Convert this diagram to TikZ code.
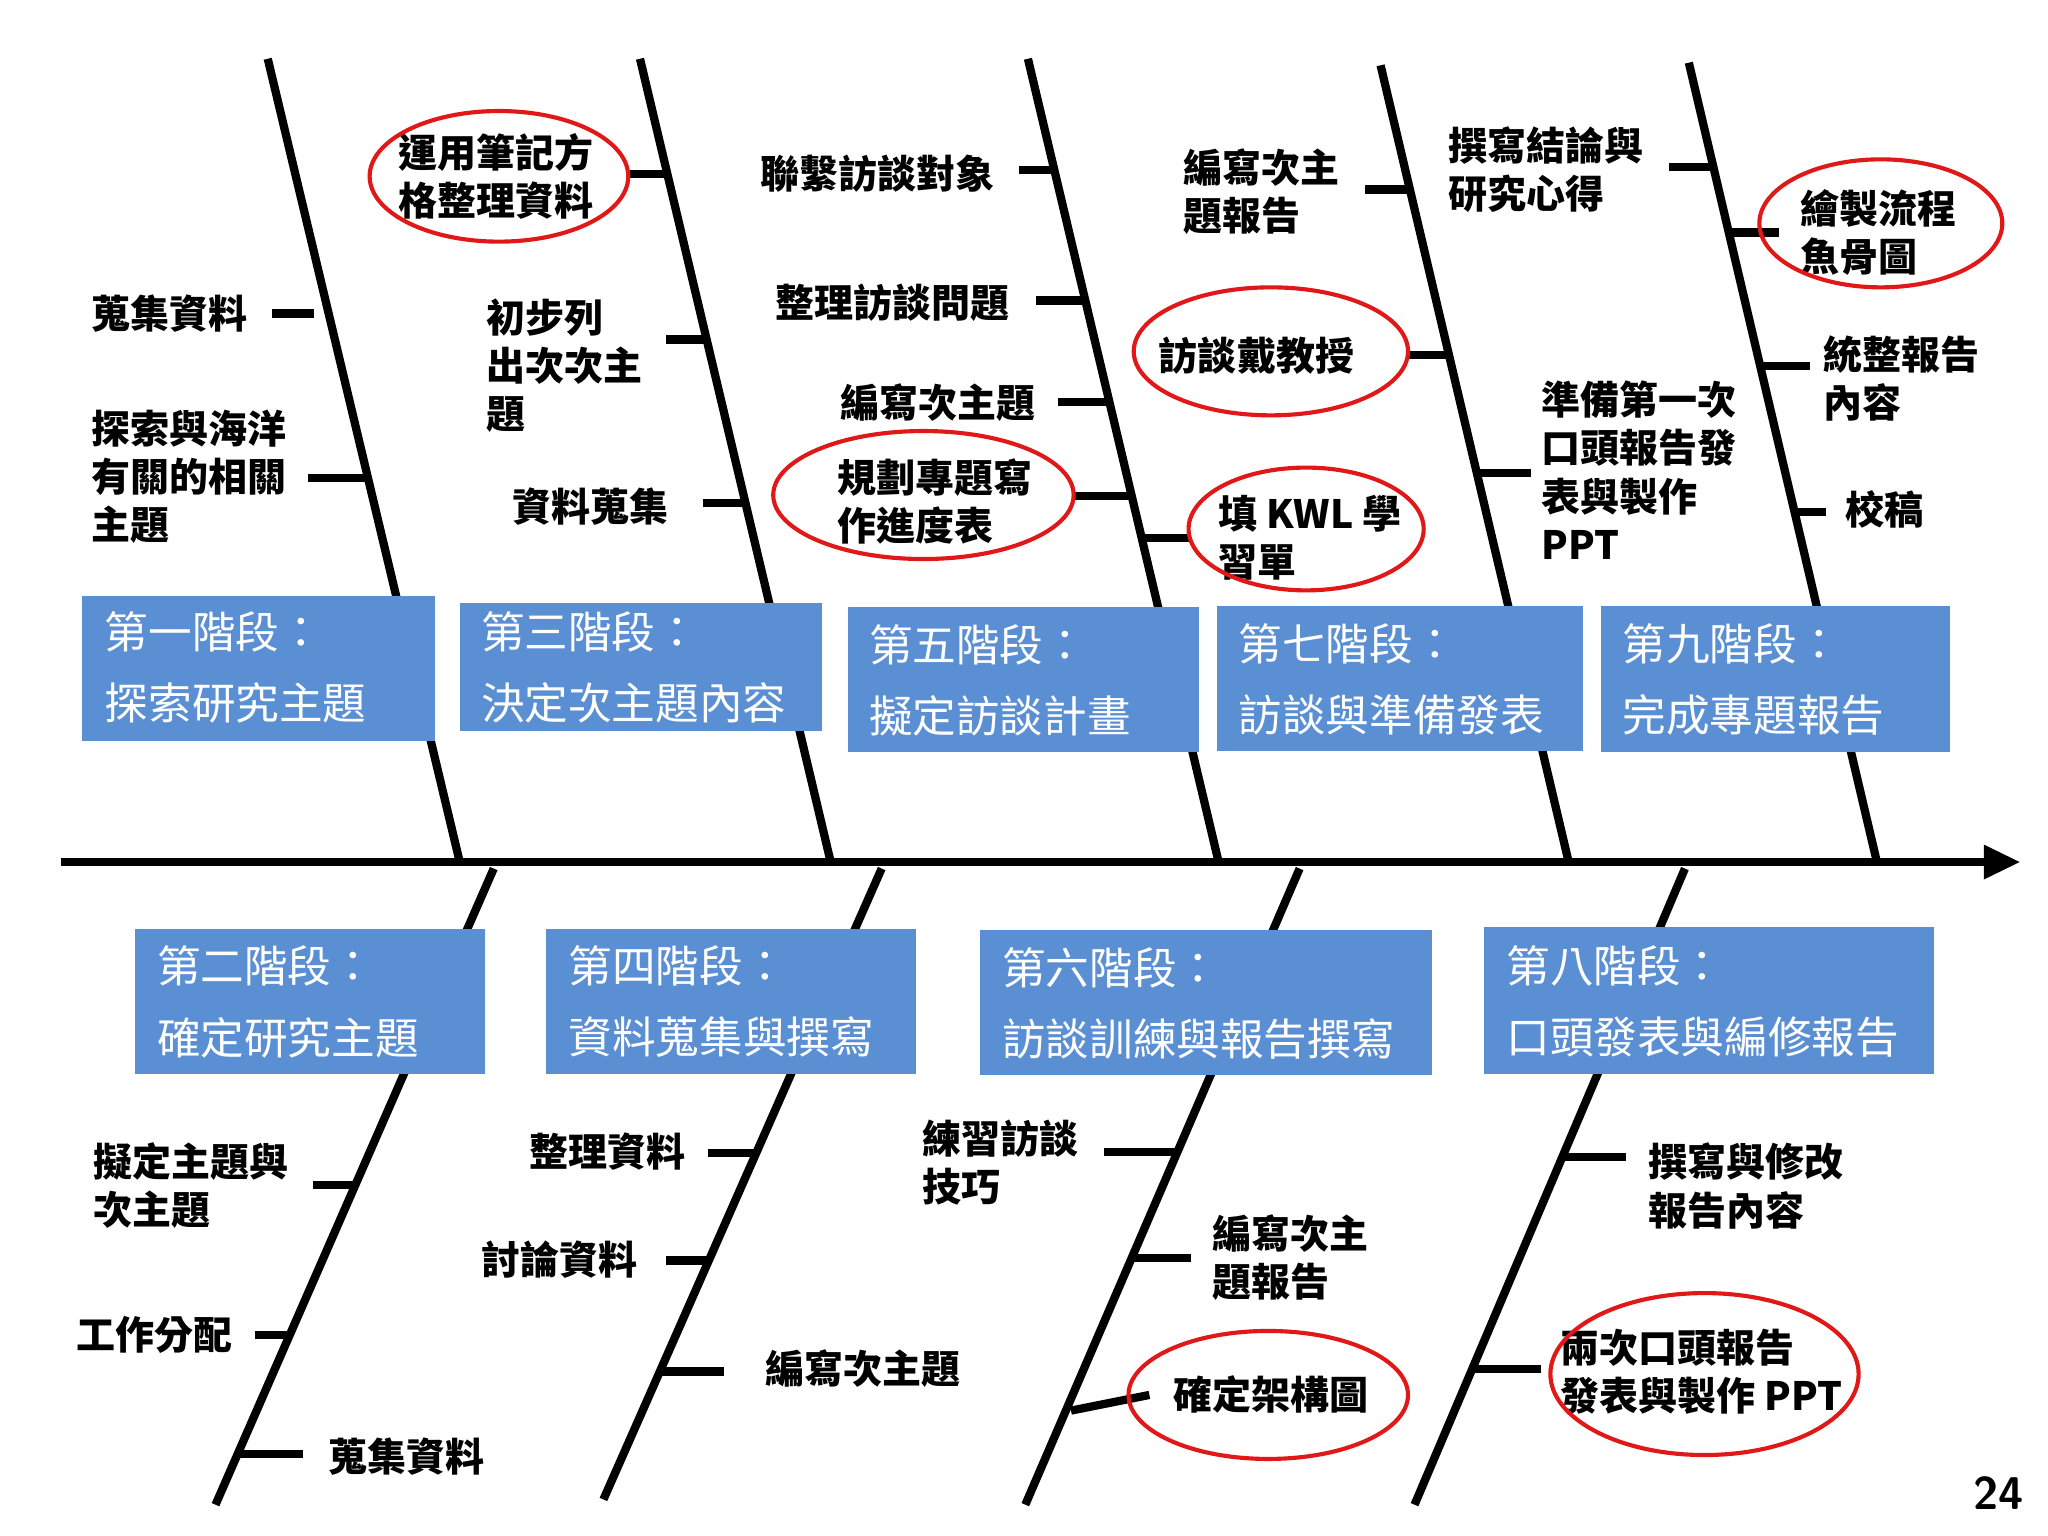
\documentclass[tikz,border=0pt]{standalone}
\usepackage{fontspec}
\setmainfont{Liberation Serif}
\newfontfamily\cjk{Noto Sans CJK TC}
\usetikzlibrary{arrows.meta,calc}
\definecolor{boxblue}{HTML}{5B8FD4}
\definecolor{ringred}{HTML}{E01818}
\begin{document}
\begin{tikzpicture}[x=0.02cm,y=-0.02cm,
  bone/.style={line width=3.6pt},
  rib/.style={line width=3.6pt},
  lbl/.style={font=\cjk\bfseries\fontsize{17}{21}\selectfont,align=left,inner sep=0pt},
  stagebox/.style={fill=boxblue},
  stage/.style={text=white,font=\cjk\fontsize{19}{31}\selectfont,align=left,anchor=west,inner sep=0pt},
  ring/.style={draw=ringred,line width=1.8pt}]
\useasboundingbox (0,0) rectangle (1568,1176);
% upper bones
\coordinate (u1a) at (205,45); \coordinate (u1b) at (352,660);
\coordinate (u2a) at (490,45); \coordinate (u2b) at (636,660);
\coordinate (u3a) at (787,45); \coordinate (u3b) at (933,660);
\coordinate (u4a) at (1057,50); \coordinate (u4b) at (1201,660);
\coordinate (u5a) at (1293,48); \coordinate (u5b) at (1437,660);
\foreach \i in {1,...,5} \draw[bone] (u\i a) -- (u\i b);
% lower bones
\coordinate (l1a) at (378,665); \coordinate (l1b) at (165,1152);
\coordinate (l2a) at (675,665); \coordinate (l2b) at (462,1148);
\coordinate (l3a) at (995,665); \coordinate (l3b) at (785,1152);
\coordinate (l4a) at (1290,665); \coordinate (l4b) at (1083,1152);
\foreach \i in {1,...,4} \draw[bone] (l\i a) -- (l\i b);
% spine
\coordinate (s0) at (47,660); \coordinate (s1) at (1547,660);
\draw[line width=3.8pt,-{Triangle[length=16pt,width=14pt]}] (s0) -- (s1);

% ribs upper
\draw[rib] (208,240) -- (240.6,240);
\draw[rib] (236,366) -- (281.7,366);
\draw[rib] (480,133) -- (511,133);
\draw[rib] (510,260) -- (541,260);
\draw[rib] (538,385) -- (570.7,385);
\draw[rib] (780,130) -- (807.2,130);
\draw[rib] (793,230) -- (831,230);
\draw[rib] (810,308) -- (849.4,308);
\draw[rib] (822,380) -- (866.5,380);
\draw[rib] (874,412) -- (912,412);
\draw[rib] (1045,145) -- (1081.4,145);
\draw[rib] (1078,272) -- (1110.6,272);
\draw[rib] (1133,362) -- (1172,362);
\draw[rib] (1278,128) -- (1312,128);
\draw[rib] (1324,178) -- (1362,178);
\draw[rib] (1348,280) -- (1386,280);
\draw[rib] (1374,392) -- (1398,392);
% ribs lower
\draw[rib] (240,907) -- (272,907);
\draw[rib] (195,1022) -- (222,1022);
\draw[rib] (182,1113) -- (232,1113);
\draw[rib] (542,883) -- (579,883);
\draw[rib] (510,965) -- (543,965);
\draw[rib] (505,1050) -- (554,1050);
\draw[rib] (845,882) -- (901,882);
\draw[rib] (867,963) -- (912,963);
\draw[rib] (820,1080) -- (880,1068);
\draw[rib] (1196,886) -- (1245,886);
\draw[rib] (1127,1048) -- (1180,1048);

% stage boxes
\fill[stagebox] (63,456) rectangle (333,567);
\node[stage] (b1t) at (80,511) {第一階段：\\探索研究主題};
\fill[stagebox] (352,462) rectangle (629,560);
\node[stage] (b3t) at (368,511) {第三階段：\\決定次主題內容};
\fill[stagebox] (649,465) rectangle (918,576);
\node[stage] (b5t) at (665,521) {第五階段：\\擬定訪談計畫};
\fill[stagebox] (932,464) rectangle (1212,575);
\node[stage] (b7t) at (948,520) {第七階段：\\訪談與準備發表};
\fill[stagebox] (1226,464) rectangle (1493,576);
\node[stage] (b9t) at (1242,520) {第九階段：\\完成專題報告};
\fill[stagebox] (103,711) rectangle (371,822);
\node[stage] (b2t) at (120,767) {第二階段：\\確定研究主題};
\fill[stagebox] (418,711) rectangle (701,822);
\node[stage] (b4t) at (435,767) {第四階段：\\資料蒐集與撰寫};
\fill[stagebox] (750,712) rectangle (1096,823);
\node[stage] (b6t) at (767,768) {第六階段：\\訪談訓練與報告撰寫};
\fill[stagebox] (1136,710) rectangle (1481,822);
\node[stage] (b8t) at (1153,767) {第八階段：\\口頭發表與編修報告};

% labels upper
\node[lbl] (t1) at (130,240) {蒐集資料};
\node[lbl] (t2) at (145,365) {探索與海洋\\有關的相關\\主題};
\node[lbl] (t3) at (380,135) {運用筆記方\\格整理資料};
\node[lbl] (t4) at (432,280) {初步列\\出次次主\\題};
\node[lbl] (t5) at (452,388) {資料蒐集};
\node[lbl] (t6) at (672,133) {聯繫訪談對象};
\node[lbl] (t7) at (683,232) {整理訪談問題};
\node[lbl] (t8) at (718,308) {編寫次主題};
\node[lbl] (t9) at (716,384) {規劃專題寫\\作進度表};
\node[lbl] (t10) at (1003,412) {填 KWL 學\\習單};
\node[lbl] (t11) at (966,147) {編寫次主\\題報告};
\node[lbl] (t12) at (962,272) {訪談戴教授};
\node[lbl] (t13) at (1255,360) {準備第一次\\口頭報告發\\表與製作\\PPT};
\node[lbl] (t14) at (1184,130) {撰寫結論與\\研究心得};
\node[lbl] (t15) at (1438,178) {繪製流程\\魚骨圖};
\node[lbl] (t16) at (1456,290) {統整報告\\內容};
\node[lbl] (t17) at (1443,390) {校稿};
% labels lower
\node[lbl] (t18) at (146,908) {擬定主題與\\次主題};
\node[lbl] (t19) at (118,1022) {工作分配};
\node[lbl] (t20) at (311,1115) {蒐集資料};
\node[lbl] (t21) at (465,882) {整理資料};
\node[lbl] (t22) at (428,964) {討論資料};
\node[lbl] (t23) at (661,1048) {編寫次主題};
\node[lbl] (t24) at (766,890) {練習訪談\\技巧};
\node[lbl] (t25) at (988,963) {編寫次主\\題報告};
\node[lbl] (t26) at (973,1068) {確定架構圖};
\node[lbl] (t27) at (1337,908) {撰寫與修改\\報告內容};
\node[lbl] (t28) at (1303,1050) {兩次口頭報告\\發表與製作 PPT};
\node[font=\sffamily\bfseries\fontsize{20}{24}\selectfont,inner sep=0pt] (pg) at (1530,1143) {24};

% rings
\draw[ring] (382,135) ellipse (99 and 50);
\draw[ring] (707,379) ellipse (115 and 49);
\draw[ring] (1000,405) ellipse (90 and 47);
\draw[ring] (973,269) ellipse (105 and 49);
\draw[ring] (1440,171) ellipse (93 and 49);
\draw[ring] (971,1068) ellipse (107 and 49);
\draw[ring] (1305,1052) ellipse (118 and 62);
\end{tikzpicture}
\end{document}
